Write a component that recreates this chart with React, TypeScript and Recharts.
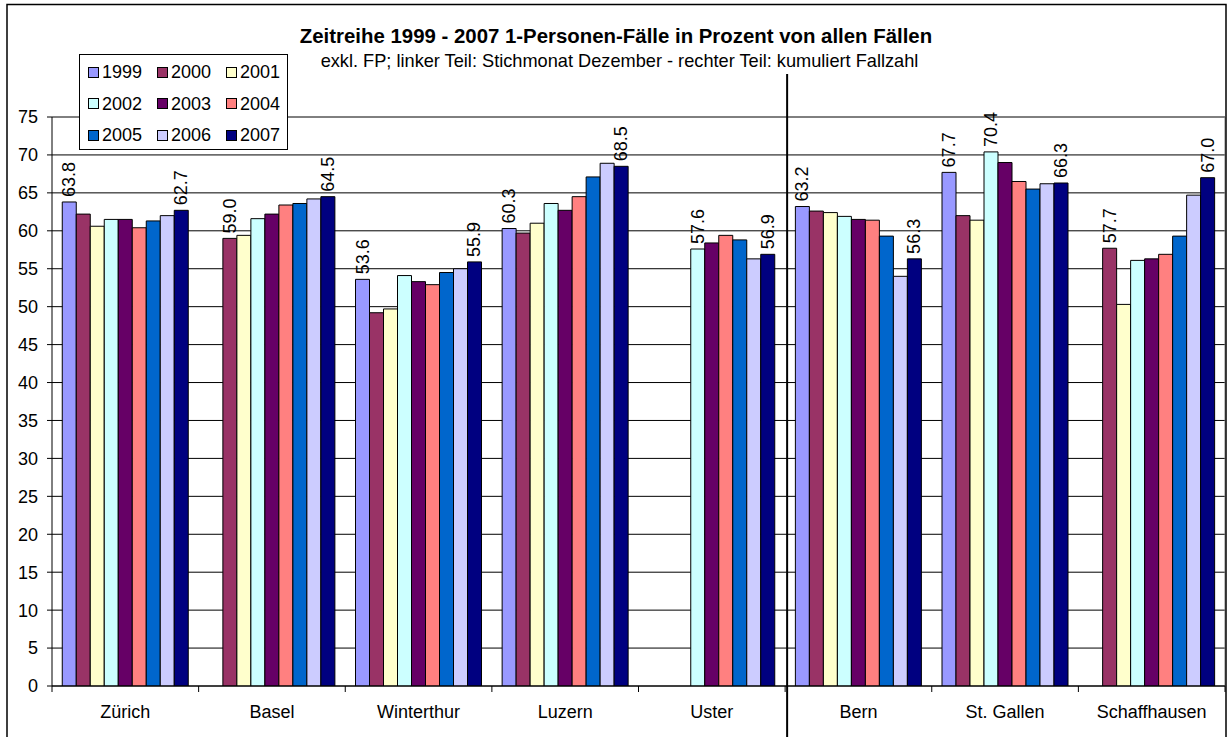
import React from 'react';
import {
  BarChart, Bar, XAxis, YAxis, CartesianGrid, Legend, LabelList, ReferenceLine,
} from 'recharts';

const cities = ['Zürich', 'Basel', 'Winterthur', 'Luzern', 'Uster', 'Bern', 'St. Gallen', 'Schaffhausen'];
const years = ['1999', '2000', '2001', '2002', '2003', '2004', '2005', '2006', '2007'];
const colors = ['#9999FF', '#993366', '#FFFFCC', '#CCFFFF', '#660066', '#FF8080', '#0066CC', '#CCCCFF', '#000080'];

const s1999 = [63.8, null, 53.6, 60.3, null, 63.2, 67.7, null];
const s2000 = [62.2, 59.0, 49.2, 59.7, null, 62.6, 62.0, 57.7];
const s2001 = [60.6, 59.4, 49.7, 61.0, null, 62.4, 61.4, 50.3];
const s2002 = [61.5, 61.6, 54.1, 63.6, 57.6, 61.9, 70.4, 56.1];
const s2003 = [61.5, 62.2, 53.3, 62.7, 58.4, 61.5, 69.0, 56.3];
const s2004 = [60.4, 63.4, 52.9, 64.5, 59.4, 61.4, 66.5, 56.9];
const s2005 = [61.3, 63.6, 54.5, 67.1, 58.8, 59.3, 65.5, 59.3];
const s2006 = [62.0, 64.2, 55.0, 68.9, 56.3, 54.0, 66.2, 64.7];
const s2007 = [62.7, 64.5, 55.9, 68.5, 56.9, 56.3, 66.3, 67.0];
const seriesValues = [s1999, s2000, s2001, s2002, s2003, s2004, s2005, s2006, s2007];

// which bars carry a value label: [city, year]
const labelledBars: [string, string][] = [
  ['Zürich', '1999'], ['Zürich', '2007'],
  ['Basel', '2000'], ['Basel', '2007'],
  ['Winterthur', '1999'], ['Winterthur', '2007'],
  ['Luzern', '1999'], ['Luzern', '2007'],
  ['Uster', '2002'], ['Uster', '2007'],
  ['Bern', '1999'], ['Bern', '2007'],
  ['St. Gallen', '1999'], ['St. Gallen', '2002'], ['St. Gallen', '2007'],
  ['Schaffhausen', '2000'], ['Schaffhausen', '2007'],
];

const yTicks = [0, 5, 10, 15, 20, 25, 30, 35, 40, 45, 50, 55, 60, 65, 70, 75];

const titleText = 'Zeitreihe 1999 - 2007 1-Personen-Fälle in Prozent von allen Fällen';
const subtitleText = 'exkl. FP; linker Teil: Stichmonat Dezember - rechter Teil: kumuliert Fallzahl';

const FONT = '"Liberation Sans", Arial, Helvetica, sans-serif';

const data = cities.map((city, i) => {
  const row: Record<string, any> = { city };
  years.forEach((y, j) => {
    row['y' + y] = seriesValues[j][i];
    const lab = labelledBars.some(([c, yy]) => c === city && yy === y);
    row['l' + y] = lab ? seriesValues[j][i] : null;
  });
  return row;
});

const renderValueLabel = (props: any) => {
  const { value } = props;
  if (value == null) return null;
  const vb = props.viewBox || props;
  const cx = vb.x + vb.width / 2;
  const ty = Math.min(vb.y, vb.y + vb.height) - 5;
  return (
    <text
      x={cx}
      y={ty}
      transform={`rotate(-90 ${cx} ${ty})`}
      textAnchor="start"
      dominantBaseline="central"
      fontSize={18}
      fontFamily={FONT}
      fill="#000"
    >
      {Number(value).toFixed(1)}
    </text>
  );
};

const tickShape = (p: any) => {
  const bottom = Math.max(p.y1, p.y2);
  return <line x1={p.x1} x2={p.x1} y1={bottom} y2={bottom + 6} stroke="#000" strokeWidth={1} />;
};

const dividerShape = (p: any) => {
  const top = Math.min(p.y1, p.y2);
  return <line x1={p.x1 + 2} x2={p.x1 + 2} y1={top - 43} y2={737} stroke="#000" strokeWidth={2} />;
};

const renderLegend = (props: any) => {
  const payload = props.payload || [];
  return (
    <div
      style={{
        position: 'relative',
        width: 209,
        height: 96,
        boxSizing: 'border-box',
        border: '1px solid #000',
        background: '#fff',
        fontFamily: FONT,
        fontSize: 18,
        color: '#000',
      }}
    >
      {payload.map((entry: any, i: number) => {
        const col = i % 3;
        const row = Math.floor(i / 3);
        const left = 8 + col * 69;
        const top = 17 + row * 31.5;
        return (
          <div key={i} style={{ position: 'absolute', left, top: top - 11, height: 22, display: 'flex', alignItems: 'center', whiteSpace: 'nowrap' }}>
            <span style={{ display: 'inline-block', width: 11, height: 11, boxSizing: 'border-box', border: '1px solid #000', background: entry.color, marginRight: 3 }} />
            <span style={{ lineHeight: '22px' }}>{entry.value}</span>
          </div>
        );
      })}
    </div>
  );
};

export default function App() {
  return (
    <div style={{ position: 'absolute', left: 0, top: 0, width: 1227, height: 737, overflow: 'hidden', background: '#fff' }}>
      <BarChart
        width={1227}
        height={737}
        data={data}
        margin={{ top: 117, right: 2, bottom: 11, left: 0 }}
        barCategoryGap="7%"
        barGap={0}
      >
        <CartesianGrid vertical={false} stroke="#000" strokeWidth={1} />
        <XAxis
          dataKey="city"
          height={40}
          tickLine={false}
          tickSize={6}
          tickMargin={13}
          axisLine={{ stroke: '#000', strokeWidth: 1 }}
          tick={{ fontSize: 18, fill: '#000', fontFamily: FONT }}
          interval={0}
        />
        <YAxis
          width={52}
          domain={[0, 75]}
          ticks={yTicks}
          interval={0}
          tickSize={5}
          tickMargin={9}
          tickLine={{ stroke: '#000' }}
          axisLine={{ stroke: '#000', strokeWidth: 1 }}
          tick={{ fontSize: 18, fill: '#000', fontFamily: FONT }}
          allowDataOverflow
        />
        <Legend
          verticalAlign="middle"
          layout="horizontal"
          content={renderLegend}
          wrapperStyle={{ position: 'absolute', left: 79, top: 54, width: 209, height: 96 }}
        />
        {years.map((y, j) => (
          <Bar
            key={y}
            dataKey={'y' + y}
            name={y}
            fill={colors[j]}
            stroke="#000"
            strokeWidth={1}
            isAnimationActive={false}
          >
            <LabelList dataKey={'l' + y} content={renderValueLabel} />
          </Bar>
        ))}
        <ReferenceLine y={75} stroke="#808080" strokeWidth={1} />
        <ReferenceLine x={cities[cities.length - 1]} position="end" stroke="#808080" strokeWidth={1} />
        {cities.map((c) => (
          <ReferenceLine key={'t' + c} x={c} position="start" shape={tickShape} />
        ))}
        <ReferenceLine x={cities[cities.length - 1]} position="end" shape={tickShape} />
        <ReferenceLine x="Bern" position="start" shape={dividerShape} />
      </BarChart>
      <svg
        width={1227}
        height={737}
        style={{ position: 'absolute', left: 0, top: 0, pointerEvents: 'none' }}
      >
        <text x={616} y={43} textAnchor="middle" fontFamily={FONT} fontWeight="bold" fontSize={20.4} fill="#000">
          {titleText}
        </text>
        <text x={619.5} y={67} textAnchor="middle" fontFamily={FONT} fontSize={18.2} fill="#000">
          {subtitleText}
        </text>
        <path d="M7,737 V4.5 H1226 V737" fill="none" stroke="#000" strokeWidth={1.5} />
      </svg>
    </div>
  );
}
